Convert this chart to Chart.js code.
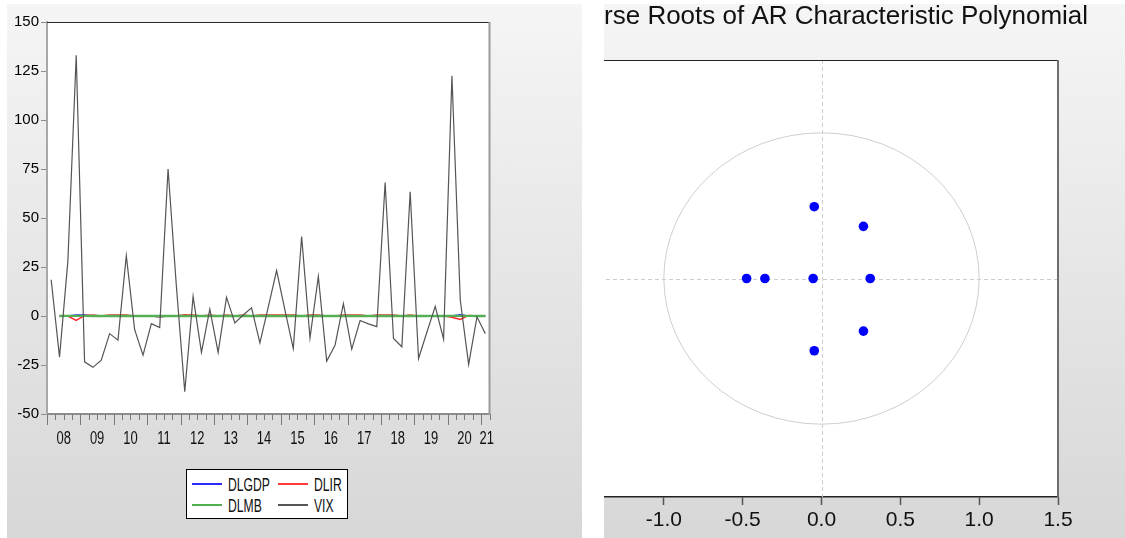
<!DOCTYPE html>
<html><head><meta charset="utf-8">
<script src="https://cdn.jsdelivr.net/npm/chart.js@4.4.1/dist/chart.umd.min.js"></script>
<style>
html,body{margin:0;padding:0;background:#fff;width:1125px;height:538px;overflow:hidden;font-family:"Liberation Sans",Arial,sans-serif}
#left{position:absolute;left:7px;top:4px;width:575px;height:534px;background:linear-gradient(to bottom,#f5f5f5,#d7d7d7)}
#right{position:absolute;left:604px;top:4px;width:521px;height:534px;overflow:hidden;background:linear-gradient(to bottom,#f5f5f5,#d7d7d7)}
#c1{position:absolute;left:0;top:0}
#c2{position:absolute;left:-64px;top:-4px}
#legend{position:absolute;left:178.5px;top:465.3px;width:160.8px;height:47.7px;border:1px solid #000;background:#fff}
.sw{position:absolute;height:2px;width:30px}
.lt{position:absolute;font-size:19px;line-height:19px;transform:scaleX(0.64);transform-origin:0 50%;color:#111;white-space:nowrap}
</style></head>
<body>
<div id="left">
  <canvas id="c1" width="575" height="534"></canvas>
  <div id="legend">
    <div class="sw" style="left:5.5px;top:12.7px;background:#2a2aff"></div>
    <div class="lt" style="left:41.2px;top:4.4px">DLGDP</div>
    <div class="sw" style="left:91.5px;top:12.7px;background:#ff3a3a"></div>
    <div class="lt" style="left:127.8px;top:4.4px">DLIR</div>
    <div class="sw" style="left:5.5px;top:33.7px;background:#4fae4f"></div>
    <div class="lt" style="left:41.2px;top:25.4px">DLMB</div>
    <div class="sw" style="left:91.5px;top:33.7px;background:#555"></div>
    <div class="lt" style="left:127.8px;top:25.4px">VIX</div>
  </div>
</div>
<div id="right">
  <canvas id="c2" width="562" height="538"></canvas>
</div>
<script>
// ---------- data: left chart (quarterly) ----------
const quarters = ['2008Q1','2008Q2','2008Q3','2008Q4','2009Q1','2009Q2','2009Q3','2009Q4',
 '2010Q1','2010Q2','2010Q3','2010Q4','2011Q1','2011Q2','2011Q3','2011Q4',
 '2012Q1','2012Q2','2012Q3','2012Q4','2013Q1','2013Q2','2013Q3','2013Q4',
 '2014Q1','2014Q2','2014Q3','2014Q4','2015Q1','2015Q2','2015Q3','2015Q4',
 '2016Q1','2016Q2','2016Q3','2016Q4','2017Q1','2017Q2','2017Q3','2017Q4',
 '2018Q1','2018Q2','2018Q3','2018Q4','2019Q1','2019Q2','2019Q3','2019Q4',
 '2020Q1','2020Q2','2020Q3','2020Q4','2021Q1'];
const yearTickLabels = ['08','09','10','11','12','13','14','15','16','17','18','19','20','21'];
const yearTickPos = [2008.5,2009.5,2010.5,2011.5,2012.5,2013.5,2014.5,2015.5,2016.5,2017.5,2018.5,2019.5,2020.5,2021.17];
const yTicksLeft = {min:-50, max:150, step:25};

const vix = [18.5,-21,28,133,-23.4,-26.2,-22.5,-9,
 -12.3,30.8,-7,-20,-3.9,-5.9,75,15,
 -38.6,10,-18.6,3.5,-18.6,9.5,-3.5,0.5,
 4.2,-13.7,4.5,23.2,3,-16.6,40.5,-11.2,
 20.2,-23,-14.9,6.3,-16.9,-2.3,-4,-5.4,
 68.1,-11.5,-15.7,63.4,-21.7,-8.3,4.9,-11.8,
 122.6,8,-24.7,-0.4,-9];
const dlgdp = [null,0.02,0.02,0.5,0.5,0.02,0.02,0.02,
 0.02,0.02,0.02,0.02,0.02,-0.4,0.02,0.02,
 0.02,0.02,0.02,0.02,0.02,0.02,0.02,0.02,
 0.02,0.02,0.02,0.02,0.02,0.02,0.02,0.02,
 0.02,0.02,0.02,0.02,0.02,0.02,0.02,0.02,
 0.02,0.02,0.02,0.02,0.02,0.02,0.02,0.02,
 0.05,0.6,0.02,0.02,0.02];
const dlir = [null,0,0,-2.2,0.3,0.5,0,0.5,
 0.5,0.5,0,0,0,-0.4,0,0,
 0.6,0.5,0,0.5,0,0.5,0,0.5,
 0,0.5,0.5,0.5,0.5,0.5,0,0.5,
 0.5,0,0,0.5,0.5,0.5,0,0.5,
 0.5,0.5,0,0.5,0,0,0,0,
 -0.6,-1.8,0.3,0,0];
const dlmb = [null,0.03,0.04,0.05,0.04,0.03,0.03,0.02,
 0.03,0.03,0.02,0.03,0.03,0.02,0.03,0.03,
 0.02,0.03,0.03,0.02,0.03,0.03,0.02,0.03,
 0.02,0.02,0.03,0.03,0.02,0.02,0.03,0.02,
 0.02,0.03,0.02,0.02,0.03,0.02,0.02,0.03,
 0.02,0.02,0.03,0.02,0.02,0.03,0.02,0.03,
 0.04,0.06,0.04,0.03,0.03];

// ---------- data: right chart (inverse AR roots) ----------
const rootsReal = [-0.046,0.266,-0.475,-0.359,-0.053,0.309,0.266,-0.046];
const rootsImag = [0.493,0.358,0,0,0,0,-0.361,-0.496];
const rightTitle = 'Inverse Roots of AR Characteristic Polynomial';
const rightRange = {min:-1.5, max:1.5, step:0.5};

// ---------- helpers ----------
const FAM = '"Liberation Sans", Arial, sans-serif';
const qx = quarters.map(q => +q.slice(0,4) + (+q.slice(5) - 0.5) / 4);
const toXY = arr => arr.map((v,i) => ({x: qx[i], y: v}));

const areaBg = {
  id:'areaBg',
  beforeDraw(chart){
    const {ctx, chartArea:a} = chart;
    ctx.save(); ctx.fillStyle = '#fff';
    ctx.fillRect(a.left, a.top, a.right - a.left, a.bottom - a.top);
    ctx.restore();
  }
};

const leftDecor = {
  id:'leftDecor',
  afterDraw(chart){
    const {ctx, chartArea:a, scales:{x}} = chart;
    ctx.save();
    ctx.strokeStyle = '#2a2a2a'; ctx.lineWidth = 1;
    ctx.beginPath(); ctx.moveTo(a.left, a.top + 0.5); ctx.lineTo(a.right, a.top + 0.5); ctx.stroke();
    ctx.strokeStyle = '#9a9a9a'; ctx.lineWidth = 2;
    ctx.beginPath(); ctx.moveTo(a.right, a.top); ctx.lineTo(a.right, a.bottom + 1); ctx.stroke();
    // quarter tick marks, longer at year starts
    ctx.strokeStyle = '#7a7a7a'; ctx.lineWidth = 1;
    const nq = Math.round((x.max - x.min) * 4);
    for (let q = 0; q <= nq; q++) {
      const px = Math.round(x.getPixelForValue(x.min + q * 0.25)) + 0.5;
      const len = q % 4 === 0 ? 11 : 6;
      ctx.beginPath(); ctx.moveTo(px, a.bottom); ctx.lineTo(px, a.bottom + len); ctx.stroke();
    }
    // year labels
    ctx.fillStyle = '#111'; ctx.font = '18px ' + FAM;
    ctx.textAlign = 'center'; ctx.textBaseline = 'middle';
    x.ticks.forEach((t, i) => {
      const px = x.getPixelForValue(t.value);
      ctx.save(); ctx.translate(px, a.bottom + 25); ctx.scale(0.72, 1);
      ctx.fillText(yearTickLabels[i], 0, 0); ctx.restore();
    });
    ctx.restore();
  }
};

new Chart(document.getElementById('c1'), {
  type:'line',
  data:{datasets:[
    {label:'VIX', data:toXY(vix), borderColor:'#555555', borderWidth:1.2, order:0},
    {label:'DLMB', data:toXY(dlmb), borderColor:'#55b055', borderWidth:2.4, order:1},
    {label:'DLIR', data:toXY(dlir), borderColor:'#ff2a2a', borderWidth:1.5, order:2},
    {label:'DLGDP', data:toXY(dlgdp), borderColor:'#2020ff', borderWidth:1.5, order:3}
  ]},
  options:{
    responsive:false, animation:false, events:[],
    elements:{point:{radius:0}, line:{tension:0}},
    layout:{padding:{left:0, right:92.5, top:18, bottom:0}},
    plugins:{legend:{display:false}, tooltip:{enabled:false}, title:{display:false}},
    scales:{
      x:{type:'linear', min:2008, max:2021.25,
         afterBuildTicks: s => { s.ticks = yearTickPos.map(v => ({value:v})); },
         ticks:{display:false},
         grid:{display:false, drawTicks:false},
         border:{display:true, color:'#8c8c8c', width:2},
         afterFit: s => { s.height = 124; }},
      y:{type:'linear', min:yTicksLeft.min, max:yTicksLeft.max,
         ticks:{stepSize:yTicksLeft.step, font:{size:15, family:FAM}, color:'#000', padding:2},
         grid:{display:true, drawOnChartArea:false, drawTicks:true, tickLength:6, tickColor:'#8c8c8c', tickWidth:1},
         border:{display:true, color:'#a8a8a8', width:2},
         afterFit: s => { s.width = 40; }}
    }
  },
  plugins:[areaBg, leftDecor]
});

const rightDecor = {
  id:'rightDecor',
  beforeDatasetsDraw(chart){
    const {ctx, chartArea:a, scales:{x, y}} = chart;
    const cx = x.getPixelForValue(0), cy = y.getPixelForValue(0);
    ctx.save();
    ctx.strokeStyle = '#cdcdcd'; ctx.lineWidth = 1; ctx.setLineDash([4,3]);
    ctx.beginPath(); ctx.moveTo(Math.round(cx)+0.5, a.top); ctx.lineTo(Math.round(cx)+0.5, a.bottom); ctx.stroke();
    ctx.beginPath(); ctx.moveTo(a.left, Math.round(cy)+0.5); ctx.lineTo(a.right, Math.round(cy)+0.5); ctx.stroke();
    ctx.setLineDash([]);
    const rx = x.getPixelForValue(1) - cx, ry = cy - y.getPixelForValue(1);
    ctx.strokeStyle = '#cfcfcf'; ctx.lineWidth = 1;
    ctx.beginPath(); ctx.ellipse(cx, cy, rx, ry, 0, 0, Math.PI * 2); ctx.stroke();
    ctx.restore();
  },
  afterDraw(chart){
    const {ctx, chartArea:a} = chart;
    ctx.save();
    ctx.strokeStyle = '#222'; ctx.lineWidth = 1.2;
    ctx.beginPath(); ctx.moveTo(a.left, a.top + 0.5); ctx.lineTo(a.right, a.top + 0.5); ctx.stroke();
    ctx.strokeStyle = '#6e6e6e'; ctx.lineWidth = 2;
    ctx.beginPath(); ctx.moveTo(a.right, a.top); ctx.lineTo(a.right, a.bottom); ctx.stroke();
    // title (drawn without width compression)
    ctx.fillStyle = '#111'; ctx.font = '26px ' + FAM;
    ctx.textAlign = 'center'; ctx.textBaseline = 'alphabetic';
    ctx.fillText(rightTitle, (a.left + a.right) / 2, 23.5);
    ctx.restore();
  }
};

new Chart(document.getElementById('c2'), {
  type:'scatter',
  data:{datasets:[{
    data: rootsReal.map((r,i) => ({x:r, y:rootsImag[i]})),
    backgroundColor:'#0000ff', borderColor:'#0000ff', pointRadius:4.8, pointBorderWidth:0
  }]},
  options:{
    responsive:false, animation:false, events:[],
    layout:{padding:{left:45, right:44, top:60, bottom:0}},
    plugins:{legend:{display:false}, tooltip:{enabled:false}, title:{display:false}},
    scales:{
      x:{type:'linear', min:rightRange.min, max:rightRange.max,
         ticks:{stepSize:rightRange.step, callback: v => Number(v).toFixed(1),
                font:{size:21, family:FAM}, color:'#111', padding:3},
         grid:{display:true, drawOnChartArea:false, drawTicks:true, tickLength:8, tickColor:'#555', tickWidth:1.5},
         border:{display:true, color:'#222', width:1.5},
         afterFit: s => { s.height = 41; }},
      y:{type:'linear', min:rightRange.min, max:rightRange.max, display:false}
    }
  },
  plugins:[areaBg, rightDecor]
});
</script>
</body></html>
